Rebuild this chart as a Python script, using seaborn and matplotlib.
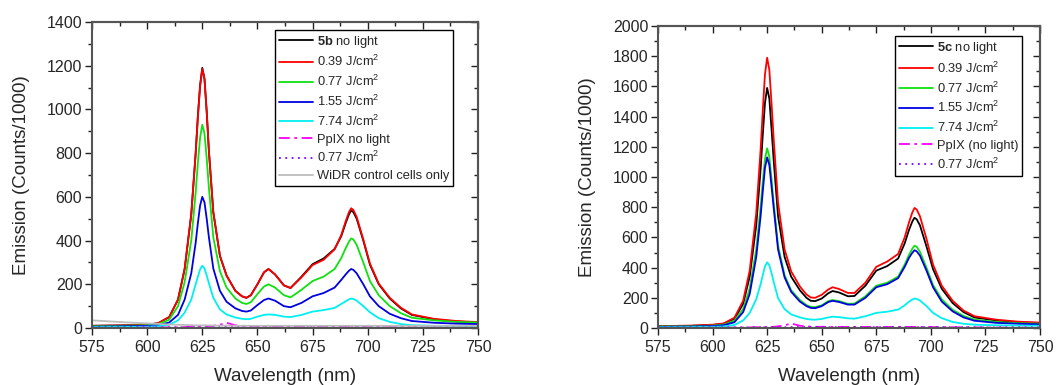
import numpy as np
import pandas as pd
import matplotlib
matplotlib.use("Agg")
import matplotlib.pyplot as plt
from matplotlib.ticker import MultipleLocator, NullFormatter
import seaborn as sns

sns.set_theme(style="white")
plt.rcParams.update({
    "font.family": ["Liberation Sans", "DejaVu Sans"],
    "mathtext.fontset": "custom",
    "mathtext.rm": "Liberation Sans",
    "mathtext.bf": "Liberation Sans:bold",
    "mathtext.it": "Liberation Sans:italic",
})

# ── DATA ──────────────────────────────────────────────────────
wavelength = [575, 590, 600, 605, 610, 614, 617, 620, 622, 623, 624, 625, 626, 627, 628,
              630, 633, 636, 640, 643, 645, 647, 650, 653, 655, 658, 662, 665, 670, 675,
              680, 685, 688, 690, 691.5, 692.5, 693.5, 695, 698, 701, 705, 710, 715, 720,
              730, 740, 750]

# panel 5b
b_nolight = [10, 12, 15, 22, 50, 130, 270, 520, 800, 970, 1110, 1190, 1140, 990, 810,
             530, 330, 240, 170, 145, 138, 150, 200, 255, 270, 245, 195, 183, 235, 292,
             318, 362, 420, 480, 520, 538, 530, 500, 400, 290, 200, 135, 90, 60,
             40, 30, 25]
b_039 = [10, 12, 15, 22, 50, 130, 270, 520, 800, 965, 1105, 1185, 1140, 990, 810,
         530, 330, 240, 170, 145, 138, 150, 200, 255, 270, 245, 195, 183, 232, 288,
         312, 360, 425, 488, 530, 548, 540, 508, 405, 295, 203, 138, 93, 62,
         42, 32, 27]
b_077 = [8, 10, 13, 18, 38, 100, 210, 400, 620, 755, 870, 930, 890, 775, 640,
         415, 260, 185, 135, 115, 110, 118, 155, 190, 200, 185, 150, 140, 175, 215,
         235, 270, 320, 365, 395, 410, 405, 380, 300, 215, 150, 100, 68, 47,
         35, 28, 25]
b_155 = [6, 8, 10, 13, 25, 60, 130, 250, 390, 480, 560, 600, 575, 500, 415,
         272, 170, 120, 90, 78, 75, 80, 105, 128, 135, 125, 100, 95, 115, 145,
         160, 185, 220, 245, 262, 270, 266, 250, 200, 145, 100, 65, 45, 32,
         24, 20, 18]
b_774 = [4, 5, 6, 8, 15, 35, 70, 130, 200, 235, 268, 285, 272, 240, 205,
         138, 85, 62, 48, 42, 40, 42, 52, 60, 62, 60, 52, 50, 60, 75,
         82, 92, 110, 122, 131, 135, 133, 125, 100, 72, 45, 28, 18, 13,
         10, 9, 8]
b_ppix = [0, 1, 2, 2, 3, 3, 4, 5, 5, 5, 6, 6, 6, 7, 8,
          10, 15, 24, 12, 9, 7, 7, 6, 5, 5, 5, 5, 5, 5, 5,
          5, 5, 5, 5, 5, 5, 5, 5, 5, 4, 4, 4, 3, 3,
          2, 1, 0]
b_ppix077 = [3, 3, 3, 3, 3, 3, 3, 4, 4, 4, 4, 4, 4, 4, 4,
             4, 4, 5, 5, 5, 5, 5, 4, 4, 4, 4, 4, 4, 4, 4,
             4, 4, 4, 4, 4, 4, 4, 4, 4, 4, 4, 4, 4, 3,
             3, 3, 3]
b_widr = [35, 26, 21, 19, 16, 15, 14, 13, 12, 12, 12, 12, 12, 12, 12,
          11, 11, 11, 10, 10, 10, 10, 10, 10, 10, 10, 10, 10, 10, 10,
          10, 10, 10, 10, 10, 10, 10, 10, 10, 10, 10, 10, 10, 10,
          10, 10, 10]

# panel 5c
c_nolight = [12, 14, 20, 28, 60, 160, 340, 680, 1050, 1280, 1490, 1590, 1520, 1320, 1110,
             740, 470, 340, 250, 200, 180, 178, 195, 230, 245, 235, 210, 212, 280, 380,
             410, 460, 560, 650, 705, 730, 720, 680, 540, 390, 260, 165, 105, 70,
             50, 38, 32]
c_039 = [12, 16, 22, 30, 68, 180, 380, 760, 1180, 1440, 1680, 1790, 1710, 1490, 1250,
         830, 520, 375, 275, 222, 202, 200, 220, 255, 270, 258, 232, 232, 300, 405,
         440, 490, 600, 700, 765, 795, 785, 740, 590, 420, 280, 180, 115, 78,
         55, 42, 36]
c_077 = [10, 12, 16, 22, 48, 125, 260, 520, 800, 970, 1120, 1190, 1135, 990, 830,
         545, 350, 250, 185, 152, 140, 138, 150, 178, 185, 178, 160, 162, 210, 280,
         300, 340, 420, 485, 525, 545, 538, 505, 400, 285, 190, 120, 80, 55,
         40, 32, 28]
c_155 = [8, 10, 13, 18, 38, 105, 225, 470, 740, 905, 1060, 1130, 1080, 940, 795,
         520, 335, 240, 175, 145, 133, 131, 145, 172, 180, 172, 155, 155, 200, 270,
         290, 330, 405, 465, 498, 515, 508, 480, 380, 270, 175, 110, 70, 48,
         34, 28, 24]
c_774 = [5, 6, 8, 10, 20, 50, 100, 190, 290, 350, 408, 435, 415, 365, 305,
         198, 125, 90, 70, 60, 56, 55, 60, 70, 75, 72, 64, 62, 78, 100,
         108, 122, 150, 175, 188, 195, 192, 182, 145, 100, 65, 40, 28, 22,
         18, 16, 15]
c_ppix = [0, 1, 2, 2, 3, 3, 4, 5, 5, 5, 6, 6, 6, 7, 8,
          11, 17, 30, 15, 11, 9, 8, 8, 7, 7, 7, 7, 7, 7, 7,
          7, 7, 7, 7, 7, 7, 7, 7, 7, 6, 6, 5, 5, 4,
          3, 2, 1]
c_ppix077 = [4, 4, 4, 4, 4, 4, 4, 5, 5, 5, 5, 5, 5, 5, 5,
             5, 5, 6, 6, 6, 6, 6, 5, 5, 5, 5, 5, 5, 5, 5,
             5, 5, 5, 5, 5, 5, 5, 5, 5, 5, 5, 5, 5, 4,
             4, 4, 4]

dose_labels = ["0.39 J/cm$^2$", "0.77 J/cm$^2$", "1.55 J/cm$^2$", "7.74 J/cm$^2$"]

BLACK, RED, GREEN, BLUE, CYAN = "#000000", "#ff0000", "#10e010", "#0000e0", "#00f0f0"
MAGENTA, PURPLE, GRAY = "#ff00ff", "#8000ff", "#bdbdbd"
DASHDOT = (0, (6, 2.5, 1.5, 2.5))
DOTTED = (0, (1, 2.5))

panels = [
    dict(series=[(b_nolight, BLACK, "-", r"$\mathbf{5b}$ no light"),
                 (b_039, RED, "-", dose_labels[0]),
                 (b_077, GREEN, "-", dose_labels[1]),
                 (b_155, BLUE, "-", dose_labels[2]),
                 (b_774, CYAN, "-", dose_labels[3]),
                 (b_ppix, MAGENTA, DASHDOT, "PpIX no light"),
                 (b_ppix077, PURPLE, DOTTED, dose_labels[1]),
                 (b_widr, GRAY, "-", "WiDR control cells only")],
         rect=[92/1056, 57/385, 386/1056, 306/385], ymax=1400,
         anchor=(0.935, 0.975)),
    dict(series=[(c_nolight, BLACK, "-", r"$\mathbf{5c}$ no light"),
                 (c_039, RED, "-", dose_labels[0]),
                 (c_077, GREEN, "-", dose_labels[1]),
                 (c_155, BLUE, "-", dose_labels[2]),
                 (c_774, CYAN, "-", dose_labels[3]),
                 (c_ppix, MAGENTA, DASHDOT, "PpIX (no light)"),
                 (c_ppix077, PURPLE, DOTTED, dose_labels[1])],
         rect=[658/1056, 57/385, 382/1056, 302/385], ymax=2000,
         anchor=(0.953, 0.967)),
]

fig = plt.figure(figsize=(10.56, 3.85), dpi=100)


def style_ticks(axis_obj, major, minor):
    axis_obj.set_major_locator(MultipleLocator(major))
    axis_obj.set_minor_locator(MultipleLocator(minor))


for p in panels:
    ax = fig.add_axes(p["rect"])
    for vals, col, ls, lab in p["series"]:
        sns.lineplot(x=wavelength, y=vals, ax=ax, color=col, linestyle=ls, lw=1.3, label=lab)
    ax.set_xlim(575, 750)
    ax.set_ylim(0, p["ymax"])
    style_ticks(ax.xaxis, 25, 12.5)
    style_ticks(ax.yaxis, 200, 100)
    ax.tick_params(which="both", direction="out", labelsize=11.5, color="#222222",
                   width=1.0, bottom=True, left=True)
    ax.tick_params(which="major", length=5)
    ax.tick_params(which="minor", length=3)
    ax.tick_params(axis="x", pad=4)
    ax.tick_params(axis="y", pad=2)

    # mirrored inward ticks on top and right
    top = ax.secondary_xaxis("top")
    right = ax.secondary_yaxis("right")
    style_ticks(top.xaxis, 25, 12.5)
    style_ticks(right.yaxis, 200, 100)
    for sec in (top, right):
        sec.tick_params(which="both", direction="in", color="#222222", width=1.0,
                        labeltop=False, labelright=False)
        sec.tick_params(which="major", length=5)
        sec.tick_params(which="minor", length=3)
        for s in sec.spines.values():
            s.set_color("#555555")
            s.set_linewidth(1.5)
    top.xaxis.set_major_formatter(NullFormatter())
    right.yaxis.set_major_formatter(NullFormatter())

    for s in ax.spines.values():
        s.set_color("#555555")
        s.set_linewidth(1.5)
    ax.set_xlabel("Wavelength (nm)", fontsize=13.5, labelpad=9)
    ax.set_ylabel("Emission (Counts/1000)", fontsize=13.5, labelpad=12)
    leg = ax.legend(loc="upper right", bbox_to_anchor=p["anchor"], fontsize=9.3,
                    frameon=True, fancybox=False, edgecolor="black", framealpha=1,
                    handlelength=2.6, handletextpad=0.3, borderpad=0.3,
                    labelspacing=0.36, borderaxespad=0)
    leg.get_frame().set_linewidth(1.0)

fig.savefig("out.png", dpi=100)
